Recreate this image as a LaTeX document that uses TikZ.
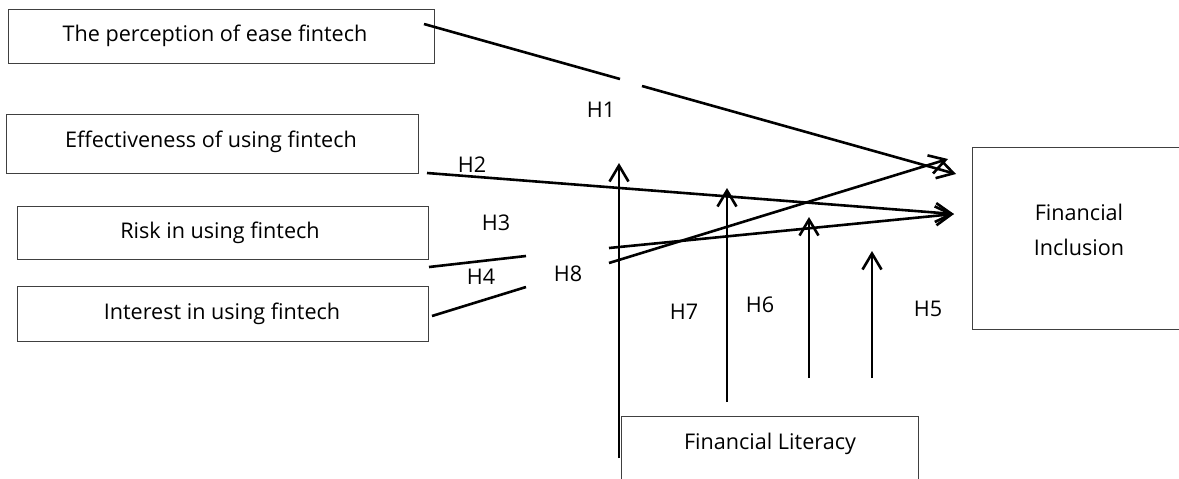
\documentclass[tikz,border=0pt]{standalone}
\usepackage{fontspec}
\setmainfont{Open Sans}
\usetikzlibrary{arrows.meta}

\tikzset{
	frame/.style={draw=black!75, line width=0.5pt},
	link/.style={line width=1.3pt},
	hyp/.style={link, -{Straight Barb[length=8pt,width=9.5pt]}},
	txt/.style={font=\fontsize{10.8}{12}\selectfont},
}

\begin{document}
\begin{tikzpicture}[x=0.5pt, y=-0.5pt, every node/.append style={txt}]
		\useasboundingbox (0,0) rectangle (1179,478);

		%variables
		\draw[frame] (8,9) rectangle (434,63);
		\node (ease) at (215,36) {The perception of ease fintech};
		\draw[frame] (6,114) rectangle (418,173);
		\node (effect) at (211,142) {Effectiveness of using fintech};
		\draw[frame] (17,206) rectangle (428,259);
		\node (risk) at (220,233) {Risk in using fintech};
		\draw[frame] (17,286) rectangle (428,341);
		\node (interest) at (222,314) {Interest in using fintech};

		%Financial Inclusion
		\draw[frame] (972,147) rectangle (1186,329);
		\node[align=center, font=\fontsize{10.8}{17.5}\selectfont] (incl) at (1079,229.5) {Financial\\Inclusion};

		%Financial Literacy
		\draw[frame] (621,416) rectangle (918,500);
		\node (lit) at (770,444) {Financial Literacy};

		%H1
		\coordinate (e1) at (424,24);
		\coordinate (g1) at (620,79);
		\coordinate (g2) at (642,86);
		\coordinate (t1) at (956,174);
		\draw[link] (e1) -- (g1);
		\draw[hyp] (g2) -- (t1);
		\node (h1) at (601,110) {H1};

		%H2
		\coordinate (e2) at (427,173);
		\coordinate (t2) at (954,214);
		\draw[hyp] (e2) -- (t2);
		\node (h2) at (472,165) {H2};

		%H3
		\coordinate (e3) at (429,267);
		\coordinate (m3) at (526,256);
		\coordinate (n3) at (609,248);
		\draw[link] (e3) -- (m3);
		\draw[hyp] (n3) -- (t2);
		\node (h3) at (496,223) {H3};

		%H4
		\coordinate (e4) at (432,316);
		\coordinate (m4) at (526,287);
		\coordinate (n4) at (609,263);
		\coordinate (t4) at (948,159);
		\draw[link] (e4) -- (m4);
		\draw[hyp] (n4) -- (t4);
		\node (h4) at (481,277) {H4};
		\node (h8) at (568,274) {H8};

		%literacy
		\foreach \n/\x/\y/\t in {a/619/458/163, b/727/402/188, c/809/378/217, d/872/378/251}{
			\coordinate (s\n) at (\x,\y);
			\coordinate (t\n) at (\x,\t);
			\draw[hyp] (s\n) -- (t\n);
		}
		\node (h7) at (684,312) {H7};
		\node (h6) at (760,305) {H6};
		\node (h5) at (928,309) {H5};
	\end{tikzpicture}
\end{document}
